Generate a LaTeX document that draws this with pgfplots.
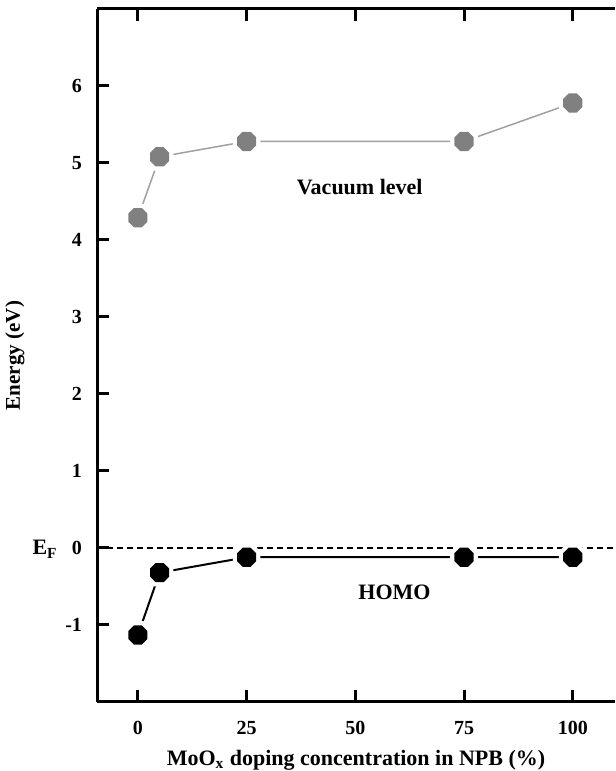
\documentclass[border=0pt]{standalone}
\usepackage{fontspec}
\setmainfont{Liberation Serif}
\usepackage{pgfplots}
\pgfplotsset{compat=1.18}
\pgfdeclareplotmark{oct*}{%
  \pgfpathmoveto{\pgfpointpolar{22.5}{\pgfplotmarksize}}%
  \pgfpathlineto{\pgfpointpolar{67.5}{\pgfplotmarksize}}%
  \pgfpathlineto{\pgfpointpolar{112.5}{\pgfplotmarksize}}%
  \pgfpathlineto{\pgfpointpolar{157.5}{\pgfplotmarksize}}%
  \pgfpathlineto{\pgfpointpolar{202.5}{\pgfplotmarksize}}%
  \pgfpathlineto{\pgfpointpolar{247.5}{\pgfplotmarksize}}%
  \pgfpathlineto{\pgfpointpolar{292.5}{\pgfplotmarksize}}%
  \pgfpathlineto{\pgfpointpolar{337.5}{\pgfplotmarksize}}%
  \pgfpathclose\pgfusepathqfill}
\definecolor{vacgray}{HTML}{808080}
\definecolor{vacline}{HTML}{A0A0A0}
\pgfplotstableread{
x y
0 4.29
5 5.08
25 5.28
75 5.28
100 5.78
}\vac
\pgfplotstableread{
x y
0 -1.13
5 -0.32
25 -0.12
75 -0.12
100 -0.12
}\homo
\begin{document}
\begin{tikzpicture}
\begin{axis}[
  scale only axis,
  width=259pt, height=346.5pt,
  xmin=-9.4, xmax=109.7,
  ymin=-2, ymax=7,
  axis x line*=box,
  axis y line*=left,
  axis line style={line width=1.5pt},
  xtick={0,25,50,75,100},
  ytick={-1,0,1,2,3,4,5,6},
  tick align=inside,
  major tick length=6pt,
  every tick/.style={black, line width=1.5pt},
  xtick pos=both,
  ytick pos=left,
  /pgf/number format/assume math mode=true,
  tick label style={font=\bfseries\fontsize{10}{12}\selectfont},
  xticklabel style={yshift=-6pt},
  yticklabel style={xshift=-4pt},
  clip=false,
]
\addplot[vacline, line width=0.75pt] table[x=x,y=y]{\vac};
\addplot[black, line width=1pt] table[x=x,y=y]{\homo};
\addplot[only marks, mark=oct*, mark size=7.5pt, white] table[x=x,y=y]{\vac};
\addplot[only marks, mark=oct*, mark size=7.5pt, white] table[x=x,y=y]{\homo};
\draw[black, line width=0.8pt, dash pattern=on 3pt off 2pt] (axis cs:-9.4,0) -- (axis cs:109.7,0);
\addplot[only marks, mark=oct*, mark size=5.2pt, vacgray] table[x=x,y=y]{\vac};
\addplot[only marks, mark=oct*, mark size=5.2pt, black] table[x=x,y=y]{\homo};
\node[font=\bfseries\fontsize{11}{13}\selectfont] at (axis cs:51,4.69) {Vacuum level};
\node[font=\bfseries\fontsize{11}{13}\selectfont] at (axis cs:59,-0.57) {HOMO};
\node[font=\bfseries\fontsize{11}{13}\selectfont, anchor=base east, inner sep=0pt] at ([xshift=-19.5pt,yshift=-3.4pt]axis cs:-9.4,0) {E\textsubscript{F}};
\node[font=\bfseries\fontsize{10.5}{12}\selectfont, rotate=90] at ([xshift=-41pt]rel axis cs:0,0.5) {Energy (eV)};
\node[font=\bfseries\fontsize{11}{13}\selectfont, anchor=base] at ([yshift=-31.5pt]rel axis cs:0.5,0) {MoO\textsubscript{x} doping concentration in NPB (\%)};
\end{axis}
\pgfresetboundingbox
\path[use as bounding box] (current axis.south west) ++(-48.5pt,-34.5pt) rectangle ([yshift=4.5pt]current axis.north east);
\end{tikzpicture}
\end{document}
